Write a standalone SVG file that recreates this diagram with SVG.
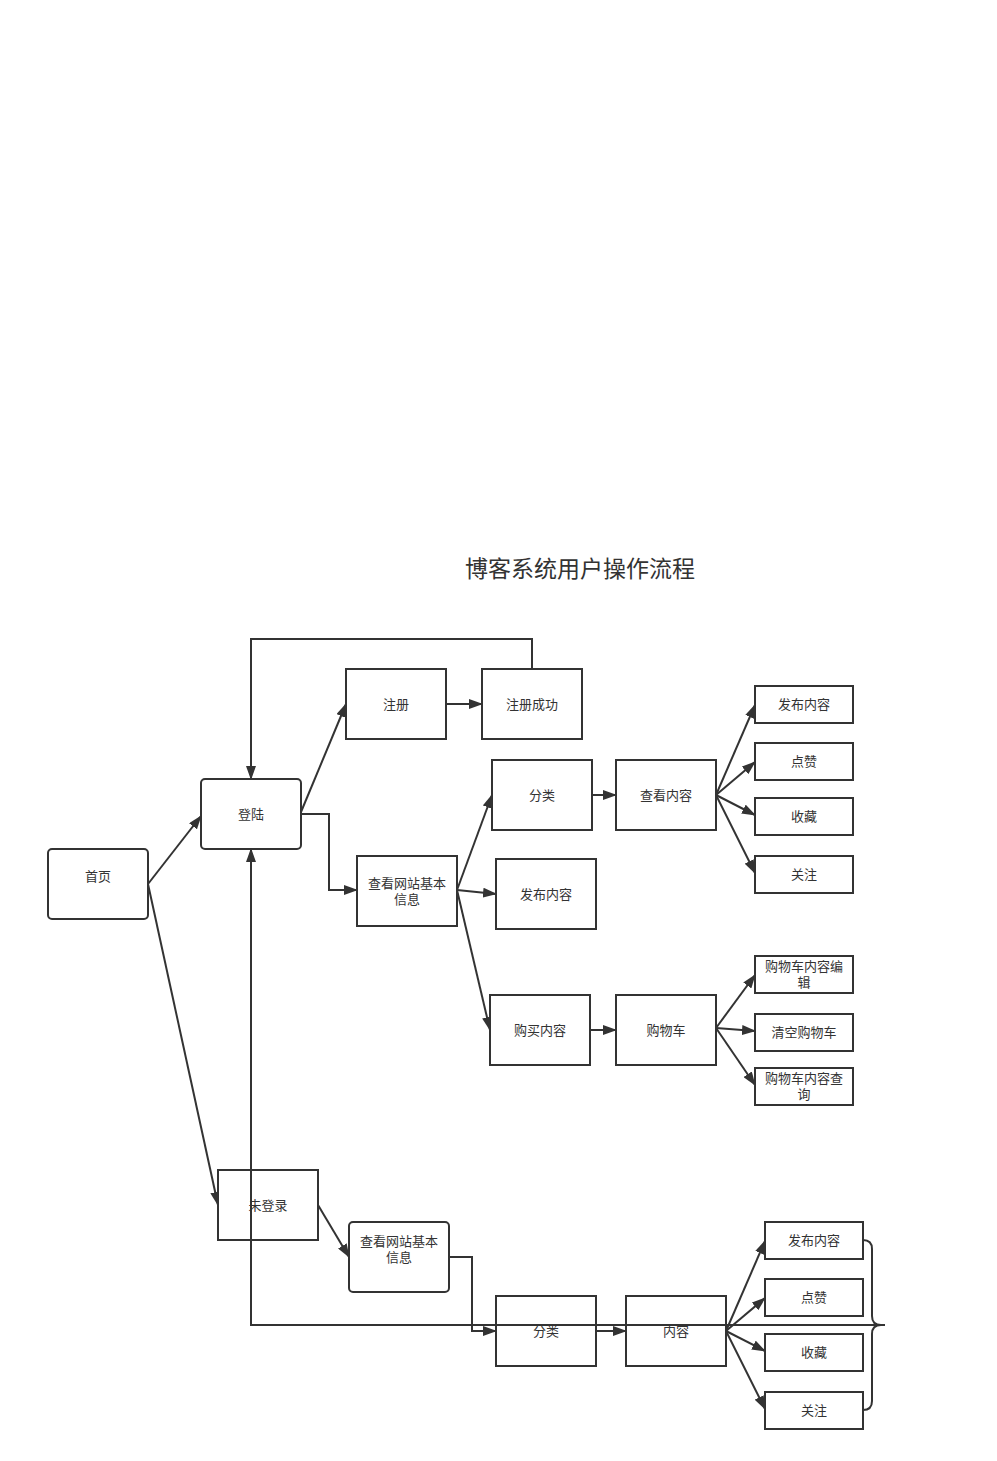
<svg xmlns="http://www.w3.org/2000/svg" width="997" height="1461" viewBox="0 0 997 1461">
<style>
.b{fill:#fff;stroke:#333;stroke-width:2}
.t{font-family:"Liberation Sans","Noto Sans CJK SC",sans-serif;font-size:13px;fill:#333;text-anchor:middle;dominant-baseline:central}
.c{fill:none;stroke:#333;stroke-width:2}
</style>
<defs>
<marker id="a" markerUnits="userSpaceOnUse" viewBox="0 0 14 10" markerWidth="14" markerHeight="10" refX="13" refY="5" orient="auto">
<path d="M0,0 L14,5 L0,10 z" fill="#333"/>
</marker>
</defs>
<rect width="997" height="1461" fill="#fff"/>
<text x="580" y="567" style="font-family:'Noto Sans CJK SC',sans-serif;font-size:23px;fill:#333;text-anchor:middle;dominant-baseline:central">博客系统用户操作流程</text>

<g id="connectors">
<path class="c" marker-end="url(#a)" d="M148,884 L201,816"/>
<path class="c" marker-end="url(#a)" d="M148,884 L218,1205"/>
<path class="c" marker-end="url(#a)" d="M301,812 L346,704"/>
<path class="c" marker-end="url(#a)" d="M301,814 H329 V890 H357"/>
<path class="c" marker-end="url(#a)" d="M446,704 H482"/>
<path class="c" marker-end="url(#a)" d="M532,669 V639 H251 V779"/>
<path class="c" marker-end="url(#a)" d="M457,890 L492,795"/>
<path class="c" marker-end="url(#a)" d="M457,890 L496,894"/>
<path class="c" marker-end="url(#a)" d="M457,890 L490,1030"/>
<path class="c" marker-end="url(#a)" d="M592,795 H616"/>
<path class="c" marker-end="url(#a)" d="M716,795 L755,705"/>
<path class="c" marker-end="url(#a)" d="M716,795 L755,762"/>
<path class="c" marker-end="url(#a)" d="M716,795 L755,815"/>
<path class="c" marker-end="url(#a)" d="M716,795 L755,873"/>
<path class="c" marker-end="url(#a)" d="M590,1030 H616"/>
<path class="c" marker-end="url(#a)" d="M716,1028 L755,975"/>
<path class="c" marker-end="url(#a)" d="M716,1028 L755,1031"/>
<path class="c" marker-end="url(#a)" d="M716,1028 L755,1085"/>
<path class="c" marker-end="url(#a)" d="M318,1205 L349,1257"/>
<path class="c" marker-end="url(#a)" d="M449,1257 H472 V1331 H496"/>
<path class="c" marker-end="url(#a)" d="M596,1331 H626"/>
<path class="c" marker-end="url(#a)" d="M726,1331 L765,1241"/>
<path class="c" marker-end="url(#a)" d="M726,1331 L765,1298"/>
<path class="c" marker-end="url(#a)" d="M726,1331 L765,1351"/>
<path class="c" marker-end="url(#a)" d="M726,1331 L765,1409"/>
</g>

<g id="n-home"><rect class="b" x="48" y="849" width="100" height="70" rx="4"/><text class="t" x="98" y="876">首页</text></g>
<g id="n-login"><rect class="b" x="201" y="779" width="100" height="70" rx="4"/><text class="t" x="251" y="814">登陆</text></g>
<g id="n-register"><rect class="b" x="346" y="669" width="100" height="70"/><text class="t" x="396" y="704">注册</text></g>
<g id="n-regok"><rect class="b" x="482" y="669" width="100" height="70"/><text class="t" x="532" y="704">注册成功</text></g>
<g id="n-info1"><rect class="b" x="357" y="856" width="100" height="70"/><text class="t" x="407" y="883">查看网站基本</text><text class="t" x="407" y="899">信息</text></g>
<g id="n-cat1"><rect class="b" x="492" y="760" width="100" height="70"/><text class="t" x="542" y="795">分类</text></g>
<g id="n-view"><rect class="b" x="616" y="760" width="100" height="70"/><text class="t" x="666" y="795">查看内容</text></g>
<g id="n-pub-mid"><rect class="b" x="496" y="859" width="100" height="70"/><text class="t" x="546" y="894">发布内容</text></g>
<g id="n-buy"><rect class="b" x="490" y="995" width="100" height="70"/><text class="t" x="540" y="1030">购买内容</text></g>
<g id="n-cart"><rect class="b" x="616" y="995" width="100" height="70"/><text class="t" x="666" y="1030">购物车</text></g>
<g id="n-pub1"><rect class="b" x="755" y="686" width="98" height="37"/><text class="t" x="804" y="704">发布内容</text></g>
<g id="n-like1"><rect class="b" x="755" y="743" width="98" height="37"/><text class="t" x="804" y="761">点赞</text></g>
<g id="n-fav1"><rect class="b" x="755" y="798" width="98" height="37"/><text class="t" x="804" y="816">收藏</text></g>
<g id="n-follow1"><rect class="b" x="755" y="856" width="98" height="37"/><text class="t" x="804" y="874">关注</text></g>
<g id="n-cartedit"><rect class="b" x="755" y="956" width="98" height="37"/><text class="t" x="804" y="966">购物车内容编</text><text class="t" x="804" y="982">辑</text></g>
<g id="n-cartclear"><rect class="b" x="755" y="1014" width="98" height="37"/><text class="t" x="804" y="1032">清空购物车</text></g>
<g id="n-cartquery"><rect class="b" x="755" y="1068" width="98" height="37"/><text class="t" x="804" y="1078">购物车内容查</text><text class="t" x="804" y="1094">询</text></g>
<g id="n-guest"><rect class="b" x="218" y="1170" width="100" height="70"/><text class="t" x="268" y="1205">未登录</text></g>
<g id="n-info2"><rect class="b" x="349" y="1222" width="100" height="70" rx="4"/><text class="t" x="399" y="1241">查看网站基本</text><text class="t" x="399" y="1257">信息</text></g>
<g id="n-cat2"><rect class="b" x="496" y="1296" width="100" height="70"/><text class="t" x="546" y="1331">分类</text></g>
<g id="n-content"><rect class="b" x="626" y="1296" width="100" height="70"/><text class="t" x="676" y="1331">内容</text></g>
<g id="n-pub2"><rect class="b" x="765" y="1222" width="98" height="37"/><text class="t" x="814" y="1240">发布内容</text></g>
<g id="n-like2"><rect class="b" x="765" y="1279" width="98" height="37"/><text class="t" x="814" y="1297">点赞</text></g>
<g id="n-fav2"><rect class="b" x="765" y="1334" width="98" height="37"/><text class="t" x="814" y="1352">收藏</text></g>
<g id="n-follow2"><rect class="b" x="765" y="1392" width="98" height="37"/><text class="t" x="814" y="1410">关注</text></g>

<g id="brace-return">
<path class="c" d="M863,1240 Q872,1240 872,1249 L872,1316 Q872,1325 881,1325 Q872,1325 872,1334 L872,1401 Q872,1410 863,1410"/>
<path class="c" marker-end="url(#a)" d="M885,1325 H251 V849"/>
</g>
</svg>
